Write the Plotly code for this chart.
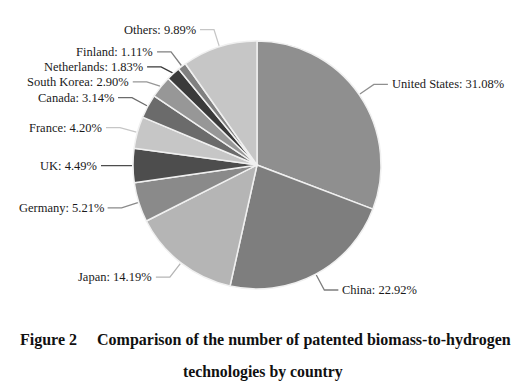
import math
import plotly.graph_objects as go

# ---- data ----
countries = ["United States", "China", "Japan", "Germany", "UK", "France",
             "Canada", "South Korea", "Netherlands", "Finland", "Others"]
shares = [31.08, 22.92, 14.19, 5.21, 4.49, 4.20, 3.14, 2.90, 1.83, 1.11, 9.89]
slice_colors = ["#8f8f8f", "#7e7e7e", "#b5b5b5", "#8a8a8a", "#4d4d4d", "#c6c6c6",
                "#6b6b6b", "#979797", "#3a3a3a", "#808080", "#c6c6c6"]
title_line1 = "Figure 2\u00a0\u00a0\u00a0\u00a0\u00a0Comparison of the number of patented biomass-to-hydrogen"
title_line2 = "technologies by country"

# ---- geometry (pixels) ----
W, H = 527, 386
cx, cy, R = 257, 165, 124
ELBOW = 18      # radial leader length
HSEG = 14       # horizontal leader length
GAP = 15        # min vertical label spacing
SERIF = "Liberation Serif, Times New Roman, serif"

fig = go.Figure()
fig.add_trace(go.Pie(
    labels=countries, values=shares, sort=False, direction="clockwise", rotation=0,
    marker=dict(colors=slice_colors, line=dict(color="#f0f0f0", width=1.5)),
    textinfo="none", hoverinfo="label+percent", showlegend=False,
    domain=dict(x=[(cx - R) / W, (cx + R) / W], y=[(H - cy - R) / H, (H - cy + R) / H]),
))

total = sum(shares)
items = []
cum = 0.0
for name, v, col in zip(countries, shares, slice_colors):
    mid = (cum + v / 2) / total * 2 * math.pi
    cum += v
    s, c = math.sin(mid), math.cos(mid)
    edge = (cx + (R + 1) * s, cy - (R + 1) * c)
    elb = [cx + (R + ELBOW) * s, cy - (R + ELBOW) * c]
    items.append(dict(name=name, v=v, col=col, edge=edge, elb=elb, right=s > 0))

# simple vertical collision avoidance per side
for side in (True, False):
    grp = sorted([it for it in items if it["right"] == side], key=lambda it: it["elb"][1])
    for i in range(1, len(grp)):
        if grp[i]["elb"][1] - grp[i - 1]["elb"][1] < GAP:
            grp[i]["elb"][1] = grp[i - 1]["elb"][1] + GAP

annotations = []
for it in items:
    ex, ey = it["elb"]
    hx = ex + HSEG if it["right"] else ex - HSEG
    fig.add_trace(go.Scatter(
        x=[it["edge"][0], ex, hx], y=[it["edge"][1], ey, ey], mode="lines",
        line=dict(color=it["col"], width=1.3), hoverinfo="skip", showlegend=False,
        xaxis="x", yaxis="y"))
    annotations.append(dict(
        x=hx + (2 if it["right"] else -2), y=ey, xref="x", yref="y",
        text=f"{it['name']}: {it['v']:.2f}%", showarrow=False,
        xanchor="left" if it["right"] else "right", yanchor="middle",
        font=dict(family=SERIF, size=12.5, color="#1a1a1a")))

annotations.append(dict(x=265 / W, y=340, xref="paper", yref="y", text=f"<b>{title_line1}</b>",
                        showarrow=False, xanchor="center", yanchor="middle",
                        font=dict(family=SERIF, size=16, color="#111111")))
annotations.append(dict(x=263 / W, y=372, xref="paper", yref="y", text=f"<b>{title_line2}</b>",
                        showarrow=False, xanchor="center", yanchor="middle",
                        font=dict(family=SERIF, size=15.8, color="#111111")))

fig.update_layout(
    width=W, height=H, margin=dict(l=0, r=0, t=0, b=0),
    paper_bgcolor="white", plot_bgcolor="rgba(0,0,0,0)",
    xaxis=dict(range=[0, W], visible=False, fixedrange=True, domain=[0, 1]),
    yaxis=dict(range=[H, 0], visible=False, fixedrange=True, domain=[0, 1]),
    annotations=annotations,
)
fig.write_html("out.html", config={"displayModeBar": False},
               post_script="document.body.style.margin='0';document.body.style.overflow='hidden';")
